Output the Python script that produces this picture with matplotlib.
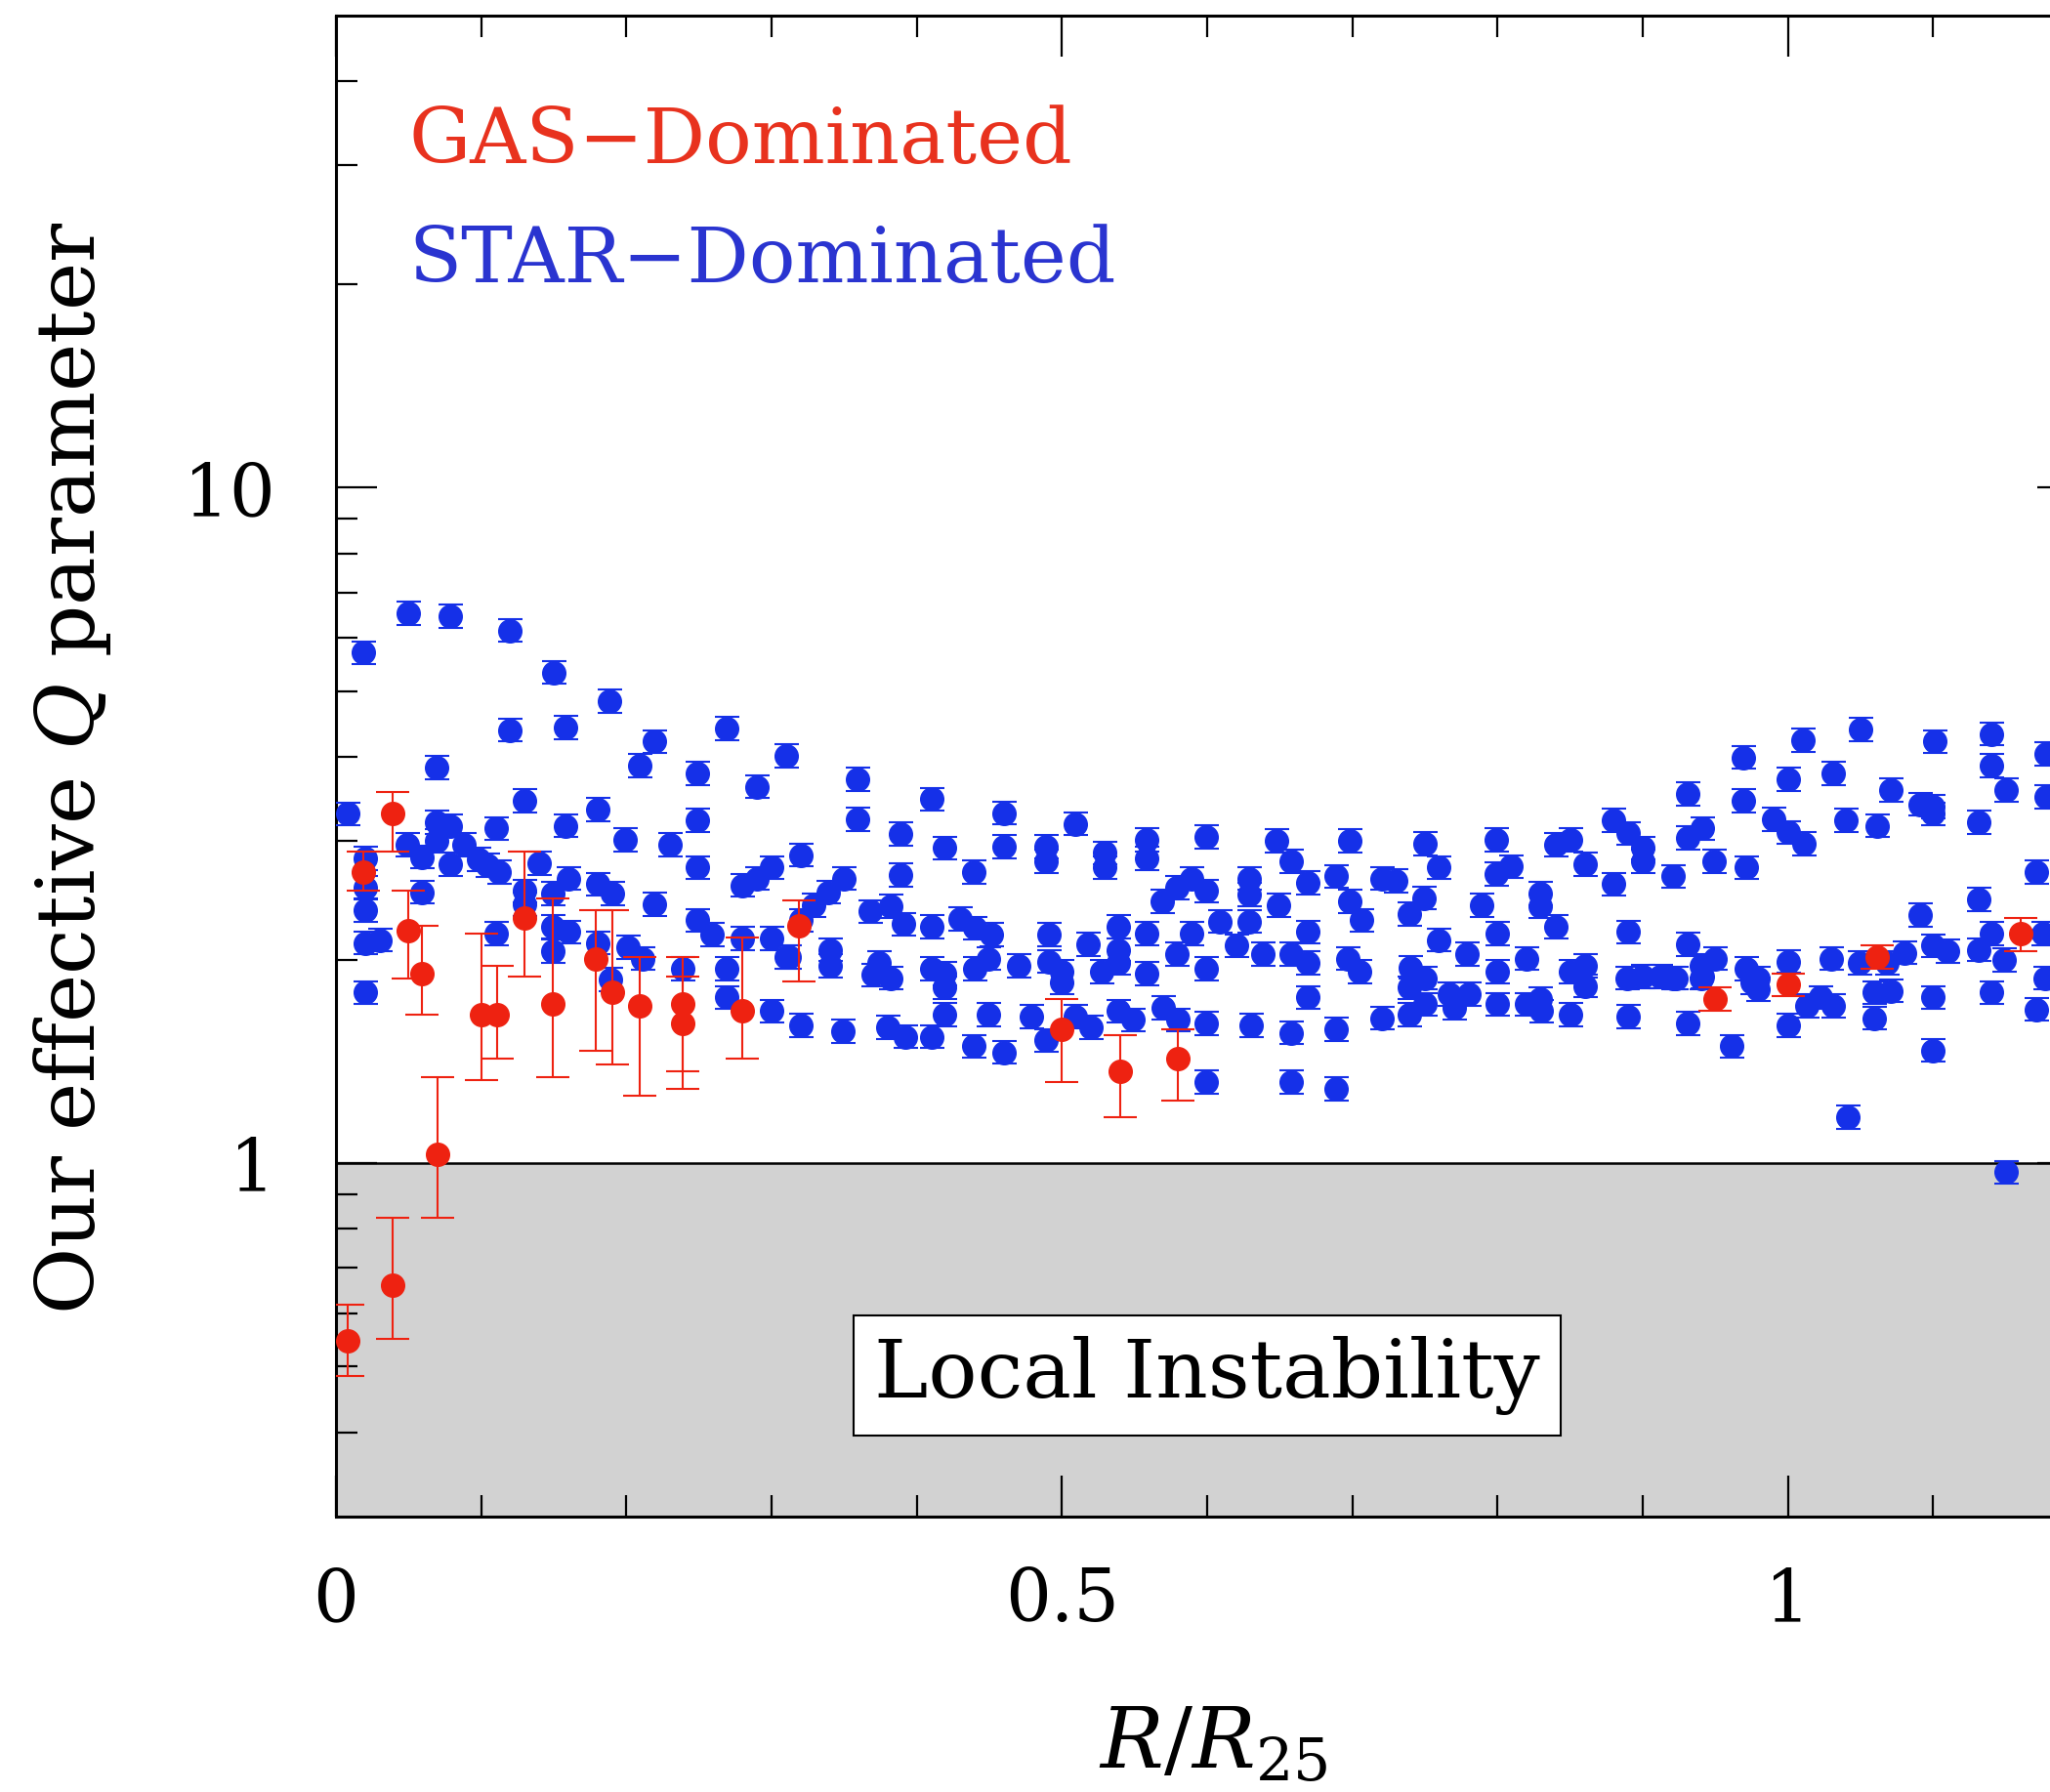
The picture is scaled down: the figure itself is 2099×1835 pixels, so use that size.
import numpy as np
import matplotlib.pyplot as plt
from matplotlib.ticker import FixedLocator, MultipleLocator, NullFormatter

plt.rcParams['font.family'] = 'DejaVu Serif'
plt.rcParams['mathtext.fontset'] = 'dejavuserif'

# --- STAR-dominated points (R/R25, Q) ---
blue_r = [0.008, 0.020, 0.020, 0.020, 0.020, 0.030, 0.020, 0.019, 0.069, 0.049,
          0.059, 0.069, 0.079, 0.069, 0.079, 0.088, 0.098, 0.104, 0.112, 0.059,
          0.110, 0.110, 0.130, 0.130, 0.130, 0.140, 0.149, 0.149, 0.149, 0.160,
          0.160, 0.158, 0.180, 0.180, 0.190, 0.180, 0.189, 0.199, 0.201, 0.211,
          0.209, 0.219, 0.219, 0.230, 0.239, 0.249, 0.249, 0.249, 0.249, 0.259,
          0.269, 0.269, 0.280, 0.280, 0.290, 0.290, 0.300, 0.300, 0.310, 0.300,
          0.320, 0.310, 0.320, 0.269, 0.120, 0.158, 0.050, 0.079, 0.120, 0.150,
          0.188, 0.320,
          0.359, 0.359, 0.410, 0.389, 0.389, 0.419, 0.439, 0.460, 0.460, 0.489,
          0.489, 0.509, 0.529, 0.529, 0.558, 0.558, 0.599, 0.648, 0.658, 0.669,
          0.689, 0.698, 0.698, 0.706, 0.569, 0.579, 0.589, 0.599, 0.629, 0.629,
          0.649, 0.350, 0.339, 0.329, 0.312, 0.340, 0.340, 0.368, 0.382, 0.391,
          0.374, 0.382, 0.370, 0.410, 0.430, 0.440, 0.451, 0.410, 0.419, 0.419,
          0.440, 0.449, 0.470, 0.491, 0.491, 0.500, 0.500, 0.518, 0.539, 0.539,
          0.539, 0.527, 0.558, 0.558, 0.589, 0.579, 0.599, 0.609, 0.620, 0.629,
          0.638, 0.669, 0.658, 0.669, 0.669, 0.697, 0.705,
          0.349, 0.380, 0.392, 0.410, 0.419, 0.439, 0.460, 0.449, 0.479, 0.489,
          0.509, 0.520, 0.539, 0.549, 0.570, 0.580, 0.599, 0.630, 0.658, 0.689,
          0.599, 0.658, 0.689,
          0.720, 0.730, 0.750, 0.759, 0.739, 0.749, 0.759, 0.740, 0.750, 0.739,
          0.750, 0.739, 0.720, 0.779, 0.767, 0.780, 0.770, 0.799, 0.799, 0.809,
          0.789, 0.800, 0.800, 0.800, 0.820, 0.820, 0.829, 0.830, 0.829, 0.829,
          0.840, 0.840, 0.850, 0.860, 0.880, 0.850, 0.860, 0.860, 0.850, 0.880,
          0.890, 0.900, 0.900, 0.921, 0.890, 0.889, 0.900, 0.912, 0.923, 0.890,
          0.931, 0.931, 0.941, 0.949, 0.969, 0.969, 0.971, 0.931, 0.950, 0.941,
          0.931, 0.961, 0.971, 0.975,
          1.010, 1.050, 1.101, 1.140, 1.140, 1.150, 1.178, 1.178, 1.000, 1.031,
          0.990, 1.000, 1.011, 1.040, 1.061, 1.071, 1.091, 1.100, 1.100, 1.131,
          1.171, 1.131, 1.091, 0.921, 0.940, 0.940, 0.979, 0.979, 1.000, 1.030,
          1.049, 1.068, 1.080, 1.059, 1.071, 1.013, 1.022, 1.031, 1.059, 1.000,
          1.100, 1.110, 1.100, 1.100, 1.131, 1.140, 1.149, 1.140, 1.176, 1.177,
          1.171, 1.041, 1.150]
blue_q = [3.29, 2.83, 2.56, 2.37, 2.12, 2.14, 1.79, 5.70, 3.85, 2.96,
          2.84, 3.20, 3.16, 3.00, 2.77, 2.96, 2.82, 2.76, 2.70, 2.52,
          3.13, 2.19, 3.44, 2.53, 2.42, 2.78, 2.51, 2.24, 2.06, 2.64,
          2.20, 3.16, 3.34, 2.59, 2.51, 2.12, 1.87, 3.01, 2.09, 2.01,
          3.88, 4.21, 2.42, 2.96, 1.94, 3.78, 3.22, 2.74, 2.29, 2.18,
          1.94, 1.76, 2.15, 2.58, 3.61, 2.64, 2.74, 2.15, 2.02, 1.68,
          1.60, 4.01, 2.86, 4.40, 4.38, 4.42, 6.52, 6.46, 6.15, 5.33,
          4.83, 2.29,
          3.70, 3.23, 3.46, 3.07, 2.67, 2.93, 2.70, 3.30, 2.94, 2.94,
          2.80, 3.18, 2.88, 2.74, 3.01, 2.83, 3.04, 3.00, 2.80, 2.60,
          2.66, 3.00, 2.44, 2.29, 2.44, 2.56, 2.64, 2.53, 2.64, 2.50,
          2.41, 2.64, 2.52, 2.41, 2.02, 2.07, 1.96, 2.36, 2.40, 2.26,
          1.98, 1.88, 1.90, 2.24, 2.30, 2.23, 2.18, 1.94, 1.91, 1.82,
          1.94, 2.01, 1.96, 2.18, 1.99, 1.92, 1.85, 2.11, 2.24, 2.07,
          1.98, 1.92, 2.19, 1.91, 2.19, 2.04, 1.94, 2.28, 2.10, 2.28,
          2.04, 2.20, 2.04, 1.98, 1.76, 2.01, 1.92,
          1.57, 1.59, 1.54, 1.54, 1.66, 1.49, 1.46, 1.66, 1.65, 1.52,
          1.65, 1.59, 1.68, 1.63, 1.70, 1.63, 1.61, 1.60, 1.56, 1.58,
          1.32, 1.32, 1.29,
          2.64, 2.62, 2.97, 2.74, 2.34, 2.47, 2.14, 1.95, 1.88, 1.82,
          1.72, 1.66, 1.64, 2.04, 1.78, 1.78, 1.70, 3.01, 2.68, 2.75,
          2.41, 2.19, 1.92, 1.72, 2.01, 1.72, 1.75, 1.68, 2.51, 2.40,
          2.24, 2.96, 3.01, 2.77, 2.59, 1.92, 1.96, 1.83, 1.66, 3.22,
          3.08, 2.93, 2.80, 2.66, 2.20, 1.88, 1.89, 1.89, 1.88, 1.65,
          3.52, 3.03, 3.13, 2.80, 3.99, 3.44, 2.74, 2.11, 2.01, 1.89,
          1.61, 1.49, 1.94, 1.85,
          4.23, 4.39, 4.21, 4.32, 3.88, 3.57, 4.04, 3.49, 3.70, 3.78,
          3.23, 3.09, 2.97, 3.22, 3.16, 3.57, 3.40, 3.37, 3.29, 3.20,
          2.70, 2.46, 2.33, 1.88, 1.88, 1.96, 1.88, 1.81, 1.99, 2.01,
          1.98, 1.98, 2.05, 1.79, 1.80, 1.71, 1.76, 1.71, 1.64, 1.60,
          2.10, 2.06, 1.76, 1.47, 2.07, 2.19, 2.00, 1.79, 2.19, 1.88,
          1.69, 1.17, 0.97]
blue_err_frac = 0.04

# --- GAS-dominated points (R/R25, Q, lower, upper) ---
red_r = [0.008, 0.039, 0.070, 0.039, 0.019, 0.050, 0.059, 0.100, 0.111, 0.130,
         0.149, 0.179, 0.190, 0.209, 0.239, 0.239, 0.280, 0.319, 0.500, 0.540,
         0.580, 0.950, 1.000, 1.061, 1.160]
red_q = [0.547, 0.66, 1.03, 3.29, 2.70, 2.21, 1.91, 1.66, 1.66, 2.31,
         1.72, 2.01, 1.79, 1.71, 1.72, 1.61, 1.68, 2.25, 1.58, 1.37,
         1.43, 1.75, 1.84, 2.02, 2.19]
red_lo = [0.485, 0.55, 0.83, 2.89, 2.53, 1.88, 1.66, 1.33, 1.43, 1.89,
          1.34, 1.47, 1.40, 1.26, 1.37, 1.29, 1.43, 1.86, 1.32, 1.17,
          1.24, 1.68, 1.77, 1.94, 2.06]
red_hi = [0.618, 0.83, 1.34, 3.54, 2.89, 2.53, 2.25, 2.19, 1.96, 2.89,
          2.47, 2.37, 2.37, 2.02, 2.02, 1.89, 2.16, 2.45, 1.75, 1.55,
          1.58, 1.82, 1.91, 2.10, 2.31]

blue = '#1530e8'
red = '#ee2211'

fig = plt.figure(figsize=(20.99, 18.35), dpi=100)
ax = fig.add_axes([0.1639, 0.1537, 0.85, 0.8376])

# instability region
ax.axhspan(0.3, 1.0, color='#d2d2d2', zorder=0)
ax.axhline(1.0, color='black', lw=1.8, zorder=1)

bq = np.array(blue_q)
ax.errorbar(blue_r, bq, yerr=[bq * (1 - 1 / (1 + blue_err_frac)), bq * blue_err_frac],
            fmt='o', color=blue, ms=17, elinewidth=1.5, capsize=9, capthick=1.5,
            zorder=3)

rq = np.array(red_q)
ax.errorbar(red_r, rq, yerr=[rq - np.array(red_lo), np.array(red_hi) - rq],
            fmt='o', color=red, ms=17, elinewidth=1.5, capsize=12, capthick=1.5,
            zorder=4)

ax.set_xscale('linear')
ax.set_yscale('log')
ax.set_xlim(0, 1.2)
ax.set_ylim(0.3, 50)

ax.set_xticks([0, 0.5, 1.0])
ax.set_xticklabels(['0', '0.5', '1'])
ax.xaxis.set_minor_locator(MultipleLocator(0.1))
ax.set_yticks([1, 10])
ax.set_yticklabels(['1', '10'])
ax.yaxis.set_minor_locator(FixedLocator([0.4, 0.5, 0.6, 0.7, 0.8, 0.9,
                                         2, 3, 4, 5, 6, 7, 8, 9, 20, 30, 40]))
ax.yaxis.set_minor_formatter(NullFormatter())

ax.tick_params(which='both', direction='in', top=True, right=True, labelsize=53)
ax.tick_params(which='major', length=30, width=1.6)
ax.tick_params(which='minor', length=16, width=1.6)
ax.tick_params(axis='x', which='major', pad=36)
ax.tick_params(axis='y', which='major', pad=45)
for s in ax.spines.values():
    s.set_linewidth(2.2)

ax.text(0.05, 32.5, 'GAS\u2212Dominated', color='#e8321e', fontsize=57,
        ha='left', va='center')
ax.text(0.05, 21.7, 'STAR\u2212Dominated', color='#2a34d0', fontsize=57,
        ha='left', va='center')
ax.text(0.600, 0.485, 'Local Instability', fontsize=60, ha='center', va='center',
        zorder=5, bbox=dict(boxstyle='square,pad=0.25', fc='white', ec='black', lw=1.5))

fig.text(0.0353, 0.5717, r'Our effective $Q$ parameter', rotation=90,
         ha='center', va='center', fontsize=60)
fig.text(0.5917, 1 - 1787 / 1835, r'$R/R_{25}$', ha='center', va='center', fontsize=62)

fig.savefig('out.png', dpi=100)
